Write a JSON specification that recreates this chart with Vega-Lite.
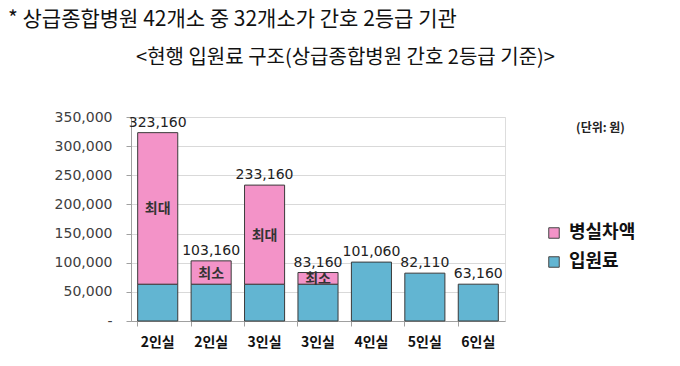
{
  "$schema": "https://vega.github.io/schema/vega-lite/v6.json",
  "width": 374,
  "height": 204,
  "autosize": {"type": "none"},
  "padding": {"left": 131, "top": 117, "right": 175, "bottom": 45},
  "background": "white",
  "title": {
    "text": "* 상급종합병원 42개소 중 32개소가 간호 2등급 기관",
    "anchor": "start",
    "frame": "group",
    "dx": -123,
    "offset": 17,
    "font": "Noto Sans CJK KR",
    "fontSize": 21,
    "fontWeight": "normal",
    "color": "#111111"
  },
  "data": {
    "values": [
      {"id": "2인실-a", "type": "입원료", "ord": 1, "value": 63160, "inner": ""},
      {"id": "2인실-a", "type": "병실차액", "ord": 2, "value": 260000, "inner": "최대"},
      {"id": "2인실-b", "type": "입원료", "ord": 1, "value": 63160, "inner": ""},
      {"id": "2인실-b", "type": "병실차액", "ord": 2, "value": 40000, "inner": "최소"},
      {"id": "3인실-a", "type": "입원료", "ord": 1, "value": 63160, "inner": ""},
      {"id": "3인실-a", "type": "병실차액", "ord": 2, "value": 170000, "inner": "최대"},
      {"id": "3인실-b", "type": "입원료", "ord": 1, "value": 63160, "inner": ""},
      {"id": "3인실-b", "type": "병실차액", "ord": 2, "value": 20000, "inner": "최소"},
      {"id": "4인실", "type": "입원료", "ord": 1, "value": 101060, "inner": ""},
      {"id": "5인실", "type": "입원료", "ord": 1, "value": 82110, "inner": ""},
      {"id": "6인실", "type": "입원료", "ord": 1, "value": 63160, "inner": ""}
    ]
  },
  "resolve": {"axis": {"x": "independent"}},
  "layer": [
    {
      "mark": {"type": "bar", "stroke": "#3a3a3a", "strokeWidth": 1},
      "encoding": {
        "x": {
          "field": "id",
          "type": "nominal",
          "sort": null,
          "scale": {"paddingInner": 0.25, "paddingOuter": 0.125},
          "axis": {
            "title": null,
            "labelExpr": "split(datum.value, '-')[0]",
            "labelAngle": 0,
            "labelFont": "Noto Sans CJK KR",
            "labelFontSize": 14,
            "labelFontWeight": "bold",
            "labelColor": "#111111",
            "labelPadding": 9,
            "bandPosition": 0,
            "tickSize": 5,
            "tickColor": "#a0a0a0",
            "domainColor": "#a0a0a0",
            "grid": false
          }
        },
        "y": {
          "field": "value",
          "type": "quantitative",
          "stack": "zero",
          "scale": {"domain": [0, 350000], "nice": false},
          "axis": {
            "values": [0, 50000, 100000, 150000, 200000, 250000, 300000, 350000],
            "labelOverlap": false,
            "labelExpr": "datum.value == 0 ? '-' : format(datum.value, ',')",
            "labelFont": "DejaVu Sans",
            "labelFontSize": 14,
            "labelColor": "#404040",
            "labelPadding": 14,
            "tickSize": 5,
            "tickColor": "#a0a0a0",
            "domainColor": "#a0a0a0",
            "gridColor": "#d9d9d9",
            "title": "(단위: 원)",
            "titleAngle": 0,
            "titleX": 469,
            "titleY": 10,
            "titleAlign": "center",
            "titleBaseline": "middle",
            "titleFont": "Noto Sans CJK KR",
            "titleFontSize": 12,
            "titleFontWeight": "bold",
            "titleColor": "#222222"
          }
        },
        "color": {
          "field": "type",
          "type": "nominal",
          "scale": {"domain": ["병실차액", "입원료"], "range": ["#F393C8", "#62B5D2"]},
          "legend": {
            "title": null,
            "orient": "none",
            "legendX": 414,
            "legendY": 107,
            "symbolType": "square",
            "symbolSize": 110,
            "symbolStrokeColor": "#444444",
            "symbolStrokeWidth": 1,
            "labelFont": "Noto Sans CJK KR",
            "labelFontSize": 18,
            "labelFontWeight": "bold",
            "labelColor": "#111111",
            "labelOffset": 6,
            "rowPadding": 11
          }
        },
        "order": {"field": "ord", "type": "quantitative"}
      }
    },
    {
      "transform": [
        {"stack": "value", "groupby": ["id"], "sort": [{"field": "ord"}], "as": ["v0", "v1"]},
        {"filter": "datum.inner != ''"},
        {"calculate": "(datum.v0 + datum.v1) / 2", "as": "mid"}
      ],
      "mark": {"type": "text", "font": "Noto Sans CJK KR", "fontSize": 14, "fontWeight": "bold", "color": "#333333", "baseline": "middle", "dy": 1},
      "encoding": {
        "x": {"field": "id", "type": "nominal", "sort": null, "axis": null},
        "y": {
          "field": "mid",
          "type": "quantitative",
          "axis": {
            "values": [0, 50000, 100000, 150000, 200000, 250000, 300000, 350000],
            "labelOverlap": false,
            "labelExpr": "datum.value == 0 ? '-' : format(datum.value, ',')",
            "labelFont": "DejaVu Sans",
            "labelFontSize": 14,
            "labelColor": "#404040",
            "labelPadding": 14,
            "tickSize": 5,
            "tickColor": "#a0a0a0",
            "domainColor": "#a0a0a0",
            "gridColor": "#d9d9d9",
            "title": "(단위: 원)",
            "titleAngle": 0,
            "titleX": 469,
            "titleY": 10,
            "titleAlign": "center",
            "titleBaseline": "middle",
            "titleFont": "Noto Sans CJK KR",
            "titleFontSize": 12,
            "titleFontWeight": "bold",
            "titleColor": "#222222"
          }
        },
        "text": {"field": "inner"}
      }
    },
    {
      "mark": {"type": "text", "font": "DejaVu Sans", "fontSize": 14, "color": "#222222", "baseline": "bottom", "dy": -3},
      "encoding": {
        "x": {
          "field": "id",
          "type": "nominal",
          "sort": null,
          "axis": {
            "orient": "top",
            "labels": false,
            "ticks": false,
            "domain": false,
            "grid": false,
            "title": "<현행 입원료 구조(상급종합병원 간호 2등급 기준)>",
            "titleX": 214,
            "titleY": -60,
            "titleAlign": "center",
            "titleBaseline": "middle",
            "titleFont": "Noto Sans CJK KR",
            "titleFontSize": 20,
            "titleFontWeight": "normal",
            "titleColor": "#111111"
          }
        },
        "y": {
          "aggregate": "sum",
          "field": "value",
          "type": "quantitative",
          "axis": {
            "values": [0, 50000, 100000, 150000, 200000, 250000, 300000, 350000],
            "labelOverlap": false,
            "labelExpr": "datum.value == 0 ? '-' : format(datum.value, ',')",
            "labelFont": "DejaVu Sans",
            "labelFontSize": 14,
            "labelColor": "#404040",
            "labelPadding": 14,
            "tickSize": 5,
            "tickColor": "#a0a0a0",
            "domainColor": "#a0a0a0",
            "gridColor": "#d9d9d9",
            "title": "(단위: 원)",
            "titleAngle": 0,
            "titleX": 469,
            "titleY": 10,
            "titleAlign": "center",
            "titleBaseline": "middle",
            "titleFont": "Noto Sans CJK KR",
            "titleFontSize": 12,
            "titleFontWeight": "bold",
            "titleColor": "#222222"
          }
        },
        "text": {"aggregate": "sum", "field": "value", "type": "quantitative", "format": ","}
      }
    }
  ]
}
